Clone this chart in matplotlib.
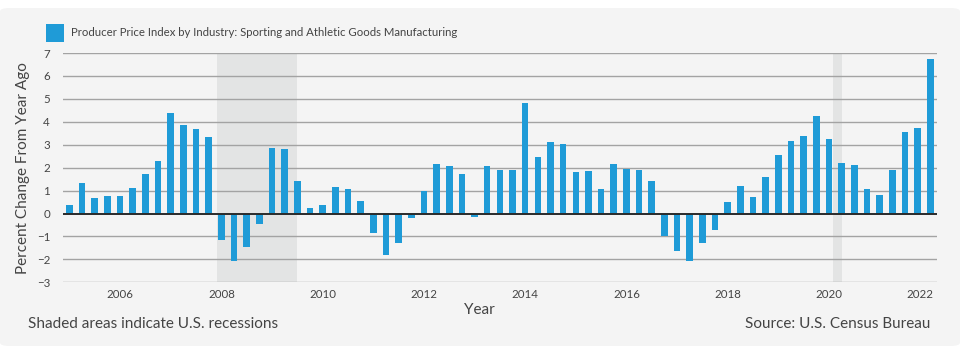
#!/usr/bin/env python3
"""PPI sporting and athletic goods manufacturing, quarterly % change from year ago."""

import matplotlib

matplotlib.use("Agg")
import matplotlib.pyplot as plt
import matplotlib.transforms as mtransforms
from matplotlib.patches import FancyBboxPatch, Rectangle

BAR = "#1F9BD7"
BG = "#F4F4F4"
SHADE = "#E3E4E4"
GRID = "#A3A3A3"
TEXT = "#444444"

START_YEAR = 2005
# quarterly values 2005 Q1 .. 2022 Q1
values = [
    0.36, 1.33, 0.67, 0.75, 0.75, 1.13, 1.74, 2.30,
    4.39, 3.86, 3.70, 3.32, -1.16, -2.07, -1.45, -0.46,
    2.85, 2.80, 1.41, 0.22, 0.36, 1.16, 1.09, 0.54,
    -0.83, -1.81, -1.28, -0.19, 0.97, 2.18, 2.06, 1.74,
    -0.14, 2.06, 1.90, 1.90, 4.80, 2.47, 3.10, 3.02,
    1.79, 1.86, 1.09, 2.18, 1.96, 1.90, 1.43, -0.98,
    -1.63, -2.08, -1.30, -0.70, 0.49, 1.21, 0.74, 1.61,
    2.56, 3.18, 3.38, 4.26, 3.27, 2.22, 2.13, 1.06,
    0.80, 1.88, 3.54, 3.72, 6.72,
]
recessions = [(2007.92, 2009.5), (2020.083, 2020.25)]
year_ticks = [2006, 2008, 2010, 2012, 2014, 2016, 2018, 2020, 2022]
y_ticks = list(range(-3, 8))
series_name = "Producer Price Index by Industry: Sporting and Athletic Goods Manufacturing"


def main() -> None:
    plt.rcParams["font.family"] = ["Lato", "DejaVu Sans"]
    fig = plt.figure(figsize=(9.6, 3.46), dpi=100, facecolor="white")
    fig.add_artist(
        FancyBboxPatch(
            (0.0, 0.0), 1.0, 1 - 8 / 346,
            boxstyle="round,pad=0,rounding_size=0.01",
            transform=fig.transFigure, facecolor=BG, edgecolor="none", zorder=0,
        )
    )

    ax = fig.add_axes([62.5 / 960, 1 - 282.3 / 346, (937 - 62.5) / 960, (282.3 - 53) / 346])
    ax.set_facecolor(BG)
    ax.patch.set_alpha(0)

    x = [START_YEAR + i / 4 for i in range(len(values))]
    for a, b in recessions:
        ax.axvspan(a, b, color=SHADE, lw=0, zorder=0)
    for y in y_ticks:
        if y != 0:
            ax.axhline(y, color=GRID, lw=1.0, zorder=1)
    ax.bar(x, values, width=0.13, color=BAR, zorder=3)
    ax.axhline(0, color="#2A2A2A", lw=1.4, zorder=4)

    ax.set_xlim(START_YEAR - 0.137, 2022.133)
    ax.set_ylim(-3, 7)
    ax.set_yticks(y_ticks)
    ax.set_xticks(year_ticks)
    ax.set_xticklabels([str(t) for t in year_ticks])
    ax.tick_params(axis="y", length=0, pad=9, labelsize=8.3, colors=TEXT)
    ax.tick_params(axis="x", length=0, pad=5, labelsize=8.3, colors=TEXT)
    for spine in ax.spines.values():
        spine.set_visible(False)

    # last year label is nudged left so it stays inside the plot
    last = ax.get_xticklabels()[-1]
    last.set_transform(last.get_transform() + mtransforms.ScaledTranslation(-10 / 100, 0, fig.dpi_scale_trans))

    ax.set_ylabel("Percent Change From Year Ago", fontsize=11, color=TEXT, labelpad=5)
    fig.text(479 / 960, 1 - 310 / 346, "Year", ha="center", va="center", fontsize=11, color=TEXT)

    fig.add_artist(
        Rectangle((46 / 960, 1 - 42 / 346), 18 / 960, 18 / 346,
                  transform=fig.transFigure, facecolor=BAR, edgecolor="none")
    )
    fig.text(71 / 960, 1 - 33 / 346, series_name, ha="left", va="center", fontsize=8.2, color=TEXT)

    fig.text(28 / 960, 1 - 324 / 346, "Shaded areas indicate U.S. recessions",
             ha="left", va="center", fontsize=11, color=TEXT)
    fig.text(930 / 960, 1 - 324 / 346, "Source: U.S. Census Bureau",
             ha="right", va="center", fontsize=11, color=TEXT)

    fig.savefig("out.png", dpi=100, facecolor=fig.get_facecolor())


if __name__ == "__main__":
    main()
